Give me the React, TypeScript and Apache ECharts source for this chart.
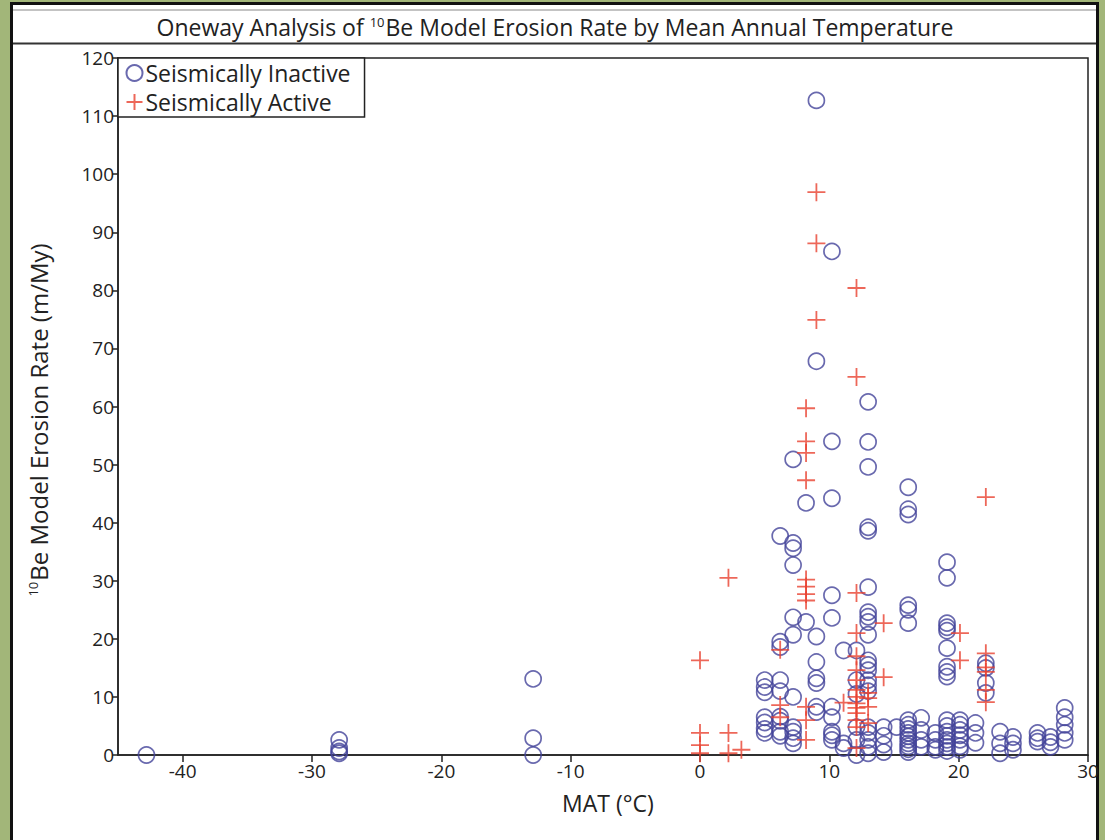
import React, { useEffect, useRef } from "react";
import * as echarts from "echarts";

// Seismically inactive: [MAT (°C), erosion rates (m/My) observed at that MAT]
const inactiveColumns: [number, number[]][] = [
  [-42.8, [0]],
  [-27.9, [2.6, 1.2, 0.6, 0.3]],
  [-12.9, [13.1, 2.9, 0]],
  [5.0, [12.9, 11.7, 10.8, 6.5, 5.6, 4.5, 3.8]],
  [6.2, [37.7, 19.5, 18.6, 12.9, 11, 6.6, 5.9, 4, 3.3]],
  [7.2, [50.9, 36.5, 35.6, 32.7, 23.7, 20.7, 10, 4.8, 4, 2.9, 2]],
  [8.2, [43.4, 22.9]],
  [9.0, [112.7, 67.8, 20.4, 16, 13.2, 12.4, 8.3, 7.4]],
  [10.2, [86.7, 54, 44.2, 27.5, 23.6, 8.3, 6.5, 4, 3.4, 2.6]],
  [11.1, [18, 2, 1.2]],
  [12.1, [18, 12.9, 10.5, 4.8, 2.6, 0]],
  [13.0, [60.8, 53.9, 49.6, 39.2, 38.6, 28.9, 24.6, 23.8, 22.9, 20.7, 16.3, 15.5, 14.6, 12.9, 12, 11, 4.8, 3.8, 2.6, 1.4, 0.3]],
  [14.2, [4.8, 3.3, 1.8, 0.5]],
  [15.2, [4.8]],
  [16.1, [46.1, 42.3, 41.4, 25.8, 25, 22.7, 6, 5.2, 4.5, 3.8, 3.2, 2.6, 2, 1.5, 1, 0.5]],
  [17.1, [6.4, 4.3, 2.6, 1.4]],
  [18.2, [3.8, 2.6, 1.4, 0.9]],
  [19.1, [33.2, 30.5, 22.7, 22, 21.4, 18.4, 15.2, 14.3, 13.5, 6, 5, 4, 3.3, 2.6, 2, 1.4, 0.7]],
  [20.1, [6, 5.2, 4.3, 3.4, 2.6, 1.5, 0.9]],
  [21.3, [5.5, 3.8, 2.1]],
  [22.1, [15.8, 15, 12.4, 10.7]],
  [23.2, [4, 2, 0.3]],
  [24.2, [3.1, 2, 0.9]],
  [26.1, [3.8, 2.9, 2.3]],
  [27.1, [3.1, 2.2, 1.4]],
  [28.2, [8.1, 6.5, 5.2, 3.8, 2.6]],
];

// Seismically active: [MAT (°C), erosion rates (m/My)]
const activeColumns: [number, number[]][] = [
  [0.0, [16.3, 3.8, 1.7, 0.3]],
  [2.2, [30.5, 3.8, 0.3]],
  [3.2, [0.9]],
  [6.2, [18.1, 8.6, 6.5]],
  [8.2, [59.7, 54, 52, 47.3, 30.2, 29, 27.7, 26.6, 8.3, 6, 2.6]],
  [9.0, [96.9, 88.1, 74.9]],
  [11.1, [9]],
  [12.1, [80.4, 65.1, 27.9, 21, 17, 14.6, 12.9, 11.2, 10, 8.9, 8.1, 7.2, 6, 4.8, 1.2]],
  [13.0, [10.7, 9.8, 8.3, 5.5]],
  [14.2, [22.7, 13.4]],
  [20.1, [21, 16.3]],
  [22.1, [44.4, 17.5, 15.1, 14.3, 11.2, 9.1]],
];

const xTicks = [-40, -30, -20, -10, 0, 10, 20, 30];
const seriesNames = ["Seismically Inactive", "Seismically Active"];

const FONT = "'Open Sans', 'Noto Sans', sans-serif";
const BLUE = "#43439a";
const RED = "#e8412f";

function flatten(cols: [number, number[]][]) {
  const out: number[][] = [];
  cols.forEach(([x, ys]) => ys.forEach((y) => out.push([x, y])));
  return out;
}

export default function App() {
  const ref = useRef<HTMLDivElement>(null);
  useEffect(() => {
    if (!ref.current) return;
    const chart = echarts.init(ref.current, null, { renderer: "svg" });
    const supStyle = { fontSize: 13, fontFamily: FONT, fill: "#222", verticalAlign: "top", lineHeight: 12, padding: [0, 1, 0, 0] };
    const option: any = {
      animation: false,
      backgroundColor: "#a2b679",
      textStyle: { fontFamily: FONT },
      graphic: [
        {
          type: "rect",
          z: -10,
          shape: { x: 11.5, y: 3.5, width: 1086, height: 850 },
          style: { fill: "#ffffff", stroke: "#111", lineWidth: 3 },
        },
        {
          type: "line",
          z: -9,
          shape: { x1: 13, y1: 10, x2: 1096, y2: 10 },
          style: { stroke: "#888", lineWidth: 1 },
        },
        {
          type: "line",
          z: -9,
          shape: { x1: 13, y1: 43.5, x2: 1096, y2: 43.5 },
          style: { stroke: "#333", lineWidth: 2 },
        },
        {
          type: "text",
          x: 555,
          y: 27,
          style: {
            text: "Oneway Analysis of {sup|10}Be Model Erosion Rate by Mean Annual Temperature",
            fontFamily: FONT,
            fontSize: 23,
            fill: "#222",
            align: "center",
            verticalAlign: "middle",
            rich: { sup: supStyle },
          },
        },
        {
          type: "text",
          x: 38,
          y: 420,
          rotation: Math.PI / 2,
          style: {
            text: "{sup|10}Be Model Erosion Rate (m/My)",
            fontFamily: FONT,
            fontSize: 24,
            fill: "#222",
            align: "center",
            verticalAlign: "middle",
            rich: { sup: supStyle },
          },
        },
        {
          type: "text",
          x: 608,
          y: 803,
          style: {
            text: "MAT (°C)",
            fontFamily: FONT,
            fontSize: 23,
            fill: "#222",
            align: "center",
            verticalAlign: "middle",
          },
        },
      ],
      grid: {
        left: 118,
        top: 58,
        right: 17,
        bottom: 85,
        show: true,
        borderColor: "#222",
        borderWidth: 1.5,
        backgroundColor: "transparent",
      },
      legend: {
        left: 118,
        top: 58,
        orient: "vertical",
        itemWidth: 16,
        itemHeight: 16,
        itemGap: 5,
        padding: [3, 14, 3, 6],
        borderColor: "#222",
        borderWidth: 1.5,
        backgroundColor: "#fff",
        textStyle: { fontSize: 23, lineHeight: 24, color: "#222", fontFamily: FONT, padding: [0, 0, 0, -2] },
        data: seriesNames,
      },
      xAxis: {
        type: "value",
        min: -45,
        max: 30,
        splitLine: { show: false },
        axisLine: { onZero: false, lineStyle: { color: "#222", width: 1.5 } },
        axisTick: { show: true, length: 7, customValues: xTicks, lineStyle: { color: "#222", width: 1.5 } },
        axisLabel: { customValues: xTicks, fontSize: 19, color: "#222", margin: 6, fontFamily: FONT },
      },
      yAxis: {
        type: "value",
        min: 0,
        max: 120,
        interval: 10,
        splitLine: { show: false },
        axisLine: { show: true, onZero: false, lineStyle: { color: "#222", width: 1.5 } },
        axisTick: { show: true, length: 6, lineStyle: { color: "#222", width: 1.5 } },
        axisLabel: { fontSize: 19, color: "#222", margin: 4, fontFamily: FONT },
      },
      series: [
        {
          name: seriesNames[0],
          type: "scatter",
          symbol: "circle",
          symbolSize: 16,
          itemStyle: { color: "rgba(255,255,255,0)", borderColor: BLUE, borderWidth: 1.7 },
          data: flatten(inactiveColumns),
          z: 3,
        },
        {
          name: seriesNames[1],
          type: "scatter",
          symbol: "path://M0,8L16,8M8,0L8,16",
          symbolSize: 18,
          itemStyle: { color: "none", borderColor: RED, borderWidth: 1.8 },
          data: flatten(activeColumns),
          z: 4,
        },
      ],
    };
    chart.setOption(option);
    return () => chart.dispose();
  }, []);
  return (
    <div
      ref={ref}
      style={{ position: "fixed", left: 0, top: 0, width: 1105, height: 840 }}
    />
  );
}
